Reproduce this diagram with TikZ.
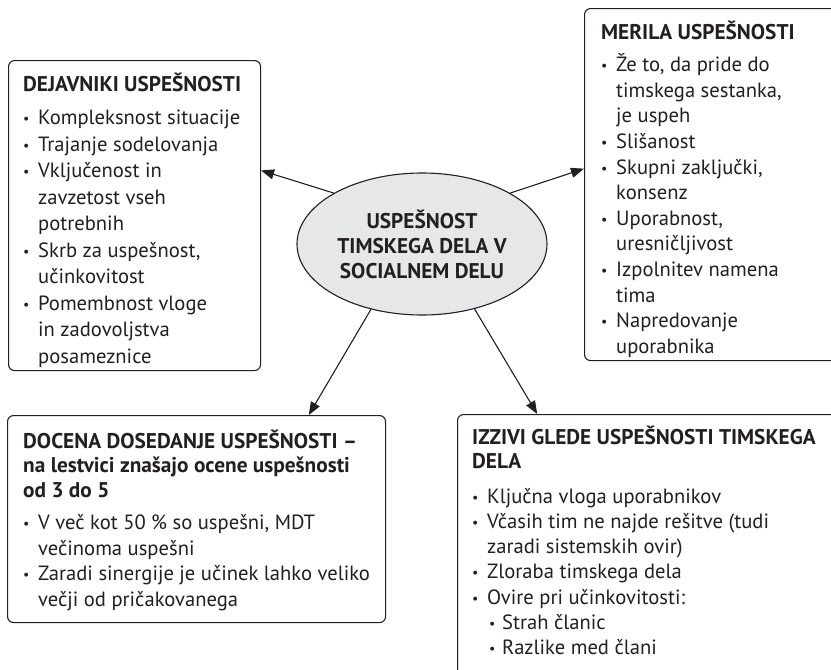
\documentclass[tikz,border=0pt]{standalone}
\usepackage{fontspec}
\setmainfont{PT Sans}
\usetikzlibrary{arrows.meta,shapes.geometric,calc}
\definecolor{ink}{HTML}{231F20}
\definecolor{bubble}{HTML}{E6E7E8}
% bullet, hanging indent and sub-bullet for the list lines
\newcommand{\bl}{\makebox[15pt][l]{\raisebox{1pt}{\fontsize{14}{14}\selectfont•}}}
\newcommand{\ind}{\hspace*{15pt}}
\newcommand{\sbl}{\hspace*{17pt}\makebox[13pt][l]{\raisebox{1pt}{\fontsize{14}{14}\selectfont•}}}
\newcommand{\hd}[1]{{\fontsize{21.3}{21.3}\selectfont\bfseries #1}}
\newcommand{\bodyfont}[1]{\fontsize{20.6}{#1}\selectfont}
\begin{document}
\begin{tikzpicture}[x=1pt,y=-1pt,
  panel/.style={draw=ink, line width=1.1pt, rounded corners=6pt, fill=white, anchor=north west, inner sep=0pt},
  hub/.style={ellipse, draw=ink, line width=1.1pt, fill=bubble, minimum width=250pt, minimum height=142pt, inner sep=0pt},
  txt/.style={anchor=base west, inner sep=0pt, text=ink},
  arr/.style={draw=ink, line width=1.1pt, -{Triangle[length=13pt,width=10pt]}}]
\clip (0,0) rectangle (831,670);
\useasboundingbox (0,0) rectangle (831,670);

% panels
\node[panel, minimum width=252pt, minimum height=310pt] (b1) at (8,60) {};
\node[panel, minimum width=270pt, minimum height=352pt] (b2) at (584,8) {};
\node[panel, minimum width=378pt, minimum height=207pt] (b3) at (7,415) {};
\node[panel, minimum width=400pt, minimum height=280pt] (b4) at (457,414) {};

% central ellipse
\node[hub, align=center, font=\fontsize{21.3}{25}\selectfont\bfseries, text=ink] (c) at (422,244)
  {USPEŠNOST\\TIMSKEGA DELA V\\SOCIALNEM DELU};

% panel texts
\node[txt] (t1) at (23,91) {\bodyfont{26.5}%
  \begin{tabular}[t]{@{}l@{}}
  \hd{DEJAVNIKI USPEŠNOSTI}\\[7pt]
  \bl Kompleksnost situacije\\
  \bl Trajanje sodelovanja\\
  \bl Vključenost in\\
  \ind zavzetost vseh\\
  \ind potrebnih\\
  \bl Skrb za uspešnost,\\
  \ind učinkovitost\\
  \bl Pomembnost vloge\\
  \ind in zadovoljstva\\
  \ind posameznice
  \end{tabular}};

\node[txt] (t2) at (601,39) {\bodyfont{25.6}%
  \begin{tabular}[t]{@{}l@{}}
  \hd{MERILA USPEŠNOSTI}\\[7pt]
  \bl Že to, da pride do\\
  \ind timskega sestanka,\\
  \ind je uspeh\\
  \bl Slišanost\\
  \bl Skupni zaključki,\\
  \ind konsenz\\
  \bl Uporabnost,\\
  \ind uresničljivost\\
  \bl Izpolnitev namena\\
  \ind tima\\
  \bl Napredovanje\\
  \ind uporabnika
  \end{tabular}};

\node[txt] (t3) at (23,448) {\bodyfont{24.5}%
  \begin{tabular}[t]{@{}l@{}}
  \hd{DOCENA DOSEDANJE USPEŠNOSTI –}\\
  \hd{na lestvici znašajo ocene uspešnosti}\\
  \hd{od 3 do 5}\\[8pt]
  \bl V več kot 50 \% so uspešni, MDT\\[1.2pt]
  \ind večinoma uspešni\\[1.2pt]
  \bl Zaradi sinergije je učinek lahko veliko\\[1.2pt]
  \ind večji od pričakovanega
  \end{tabular}};

\node[txt] (t4) at (472,444) {\bodyfont{24.5}%
  \begin{tabular}[t]{@{}l@{}}
  \hd{IZZIVI GLEDE USPEŠNOSTI TIMSKEGA}\\
  \hd{DELA}\\[10pt]
  \bl Ključna vloga uporabnikov\\[0.8pt]
  \bl Včasih tim ne najde rešitve (tudi\\[0.8pt]
  \ind zaradi sistemskih ovir)\\[0.8pt]
  \bl Zloraba timskega dela\\[0.8pt]
  \bl Ovire pri učinkovitosti:\\[0.8pt]
  \sbl Strah članic\\[0.8pt]
  \sbl Razlike med člani
  \end{tabular}};

% connectors
\draw[arr] (c.150) -- ($(b1.north east)!0.355!(b1.south east)$);
\draw[arr] (c.30) -- ($(b2.north west)!0.455!(b2.south west)$);
\draw[arr] (c.232) -- ($(b3.north west)!0.796!(b3.north east)$);
\draw[arr] (c.309) -- ($(b4.north west)!0.2!(b4.north east)$);
\end{tikzpicture}
\end{document}
